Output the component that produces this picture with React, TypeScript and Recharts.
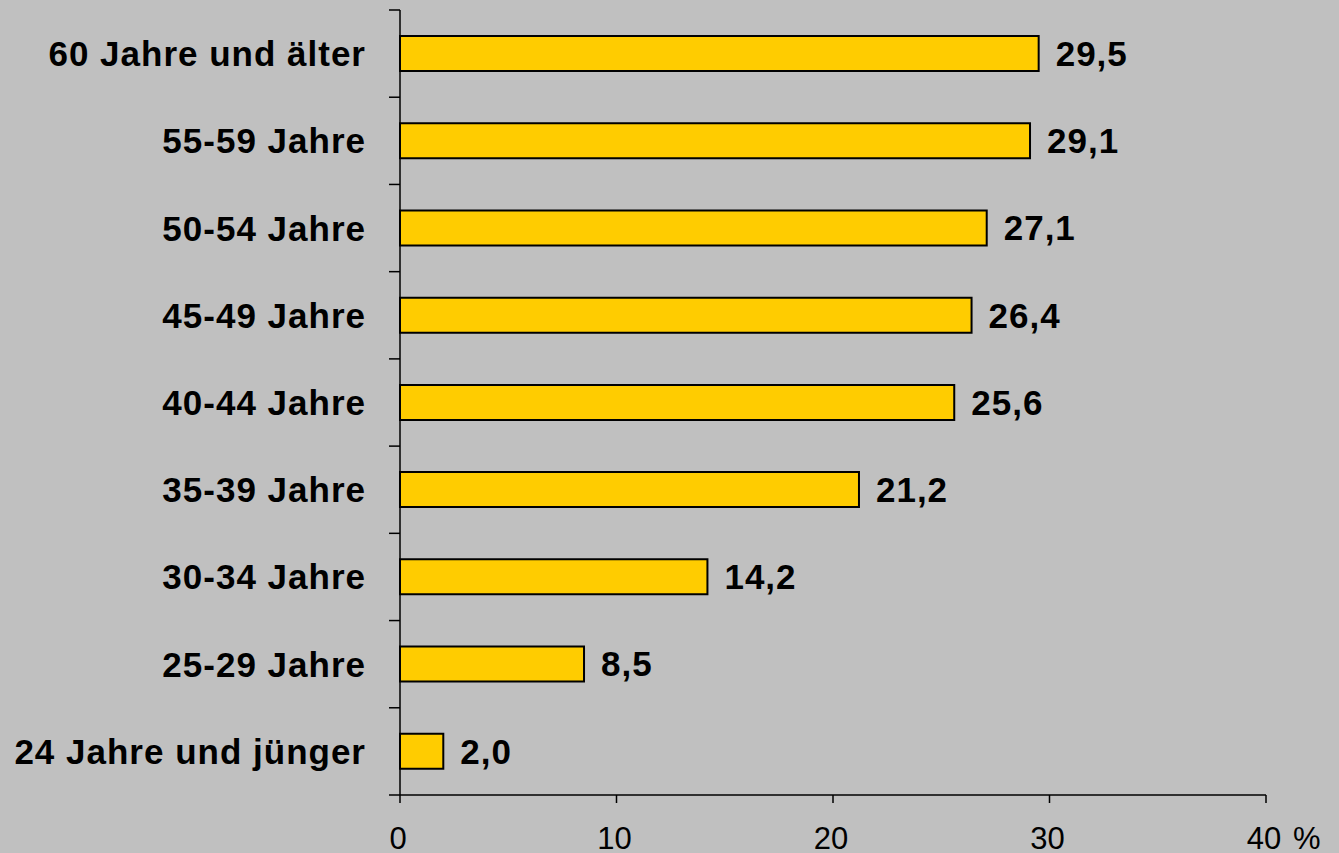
import { BarChart, Bar, XAxis, YAxis, LabelList } from "recharts";

const ageGroups = [
  "60 Jahre und älter",
  "55-59 Jahre",
  "50-54 Jahre",
  "45-49 Jahre",
  "40-44 Jahre",
  "35-39 Jahre",
  "30-34 Jahre",
  "25-29 Jahre",
  "24 Jahre und jünger",
];
const shares = [29.5, 29.1, 27.1, 26.4, 25.6, 21.2, 14.2, 8.5, 2.0];
const xTicks = [0, 10, 20, 30, 40];

const data = ageGroups.map((g, i) => ({ group: g, share: shares[i] }));

const FONT = "'Liberation Sans', Arial, sans-serif";
const Y_TICK = 11;
const Y_GAP = 23;

function YTick(props: any) {
  const { x, y, payload, index, visibleTicksCount } = props;
  const half = payload.offset ?? 0;
  const axisX = x + Y_TICK + Y_GAP;
  return (
    <g>
      <line x1={axisX - Y_TICK} x2={axisX} y1={y - half} y2={y - half} stroke="#000" strokeWidth={1.5} />
      {index === visibleTicksCount - 1 && (
        <line x1={axisX - Y_TICK} x2={axisX} y1={y + half} y2={y + half} stroke="#000" strokeWidth={1.5} />
      )}
      <text
        x={x}
        y={y}
        textAnchor="end"
        dominantBaseline="central"
        fontFamily={FONT}
        fontWeight="bold"
        fontSize={35}
        letterSpacing={1}
        fill="#000"
      >
        {payload.value}
      </text>
    </g>
  );
}

function XTick(props: any) {
  const { x, y, payload } = props;
  const last = payload.value === xTicks[xTicks.length - 1];
  return (
    <g fontFamily={FONT} fontSize={31} fill="#000">
      <text x={x - 2} y={y} dy="0.71em" textAnchor="middle">{payload.value}</text>
      {last && <text x={x + 27} y={y} dy="0.71em" textAnchor="start">%</text>}
    </g>
  );
}

export default function App() {
  return (
    <div style={{ position: "absolute", left: 0, top: 0, width: 1339, height: 853, background: "#c0c0c0" }}>
      <BarChart
        width={1339}
        height={853}
        data={data}
        layout="vertical"
        margin={{ top: 10, right: 73, bottom: 0, left: 0 }}
        barCategoryGap={0}
      >
        <XAxis
          type="number"
          domain={[0, 40]}
          ticks={xTicks}
          height={58}
          axisLine={{ stroke: "#000", strokeWidth: 1.5 }}
          tickLine={{ stroke: "#000", strokeWidth: 1.5 }}
          tickSize={8}
          tickMargin={24}
          tick={<XTick />}
          interval={0}
        />
        <YAxis
          type="category"
          dataKey="group"
          width={400}
          axisLine={{ stroke: "#000", strokeWidth: 1.5 }}
          tickLine={false}
          tickSize={Y_TICK}
          tickMargin={Y_GAP}
          tick={<YTick />}
          interval={0}
        />
        <Bar dataKey="share" fill="#ffcc00" stroke="#000" strokeWidth={2} barSize={35} isAnimationActive={false}>
          <LabelList
            dataKey="share"
            position="right"
            offset={17}
            formatter={(v: any) => Number(v).toFixed(1).replace(".", ",")}
            style={{ fontFamily: FONT, fontWeight: "bold", fontSize: 35, letterSpacing: 1, fill: "#000" }}
          />
        </Bar>
      </BarChart>
    </div>
  );
}
